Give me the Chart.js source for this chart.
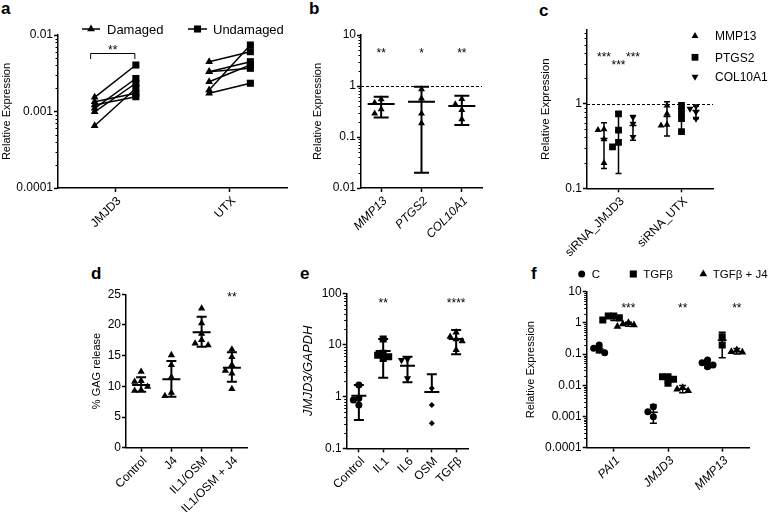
<!DOCTYPE html>
<html><head><meta charset="utf-8">
<script src="https://cdn.jsdelivr.net/npm/chart.js@4/dist/chart.umd.min.js"></script>
<style>
html,body{margin:0;padding:0;background:#fff;}
body{width:778px;height:512px;position:relative;overflow:hidden;font-family:"Liberation Sans",Arial,sans-serif;}
canvas{position:absolute;}
.lbl{position:absolute;font-weight:bold;font-size:17px;line-height:17px;color:#000;font-family:"Liberation Sans",Arial,sans-serif;}
</style></head><body>
<div class="lbl" style="left:1px;top:0px">a</div>
<div class="lbl" style="left:309px;top:0px">b</div>
<div class="lbl" style="left:539px;top:2px">c</div>
<div class="lbl" style="left:91px;top:265px">d</div>
<div class="lbl" style="left:300px;top:265px">e</div>
<div class="lbl" style="left:531px;top:265px">f</div>
<script>
// ---------------- DATA ----------------
// a
const aCategories = ['JMJD3', 'UTX'];
const aSeriesNames = ['Damaged', 'Undamaged'];
const aYTickLabels = ['0.0001', '0.001', '0.01'];
const aDamagedJMJD3 = [0.00153, 0.00134, 0.00122, 0.0011, 0.00099, 0.00065];
const aUndamagedJMJD3 = [0.00405, 0.00173, 0.00156, 0.0027, 0.00234, 0.00201];
const aDamagedUTX = [0.00448, 0.00331, 0.00331, 0.00245, 0.00191, 0.00173];
const aUndamagedUTX = [0.00605, 0.00448, 0.00367, 0.00405, 0.0074, 0.00234];
const aStars = '**';
// b
const bCategories = ['MMP13', 'PTGS2', 'COL10A1'];
const bYTickLabels = ['0.01', '0.1', '1', '10'];
const bMMP13 = [0.55, 0.47, 0.35, 0.29];
const bPTGS2 = [0.86, 0.57, 0.29, 0.186];
const bCOL10A1 = [0.556, 0.437, 0.339, 0.222];
const bMean = [0.444, 0.49, 0.405];
const bErrHigh = [0.617, 0.97, 0.645];
const bErrLow = [0.24, 0.02, 0.172];
const bStars = ['**', '*', '**'];
const bReferenceLevel = 1;
// c
const cCategories = ['siRNA_JMJD3', 'siRNA_UTX'];
const cSeriesNames = ['MMP13', 'PTGS2', 'COL10A1'];
const cYTickLabels = ['0.1', '1'];
const cMMP13_siJMJD3 = [0.50, 0.49, 0.38, 0.20];
const cMMP13_siUTX = [0.955, 0.762, 0.566, 0.555];
const cPTGS2_siJMJD3 = [0.76, 0.49, 0.35, 0.31];
const cPTGS2_siUTX = [0.955, 0.80, 0.67, 0.47];
const cCOL10A1_siJMJD3 = [0.696, 0.582, 0.405];
const cCOL10A1_siUTX = [0.937, 0.873, 0.80, 0.666];
const cMeanMMP13 = [0.388, 0.71];
const cMeanPTGS2 = [0.48, 0.72];
const cMeanCOL10A1 = [0.556, 0.834];
const cErrHighMMP13 = [0.598, 1.06];
const cErrHighPTGS2 = [0.80, 1.03];
const cErrHighCOL10A1 = [0.73, 0.937];
const cErrLowMMP13 = [0.172, 0.416];
const cErrLowPTGS2 = [0.15, 0.47];
const cErrLowCOL10A1 = [0.37, 0.666];
const cStarsSiJMJD3 = ['***', '***', '***'];
const cReferenceLevel = 1;
// d
const dCategories = ['Control', 'J4', 'IL1/OSM', 'IL1/OSM + J4'];
const dYTickLabels = ['0', '5', '10', '15', '20', '25'];
const dControl = [12.4, 10.9, 10.75, 9.94, 9.4, 9.29];
const dJ4 = [15.1, 13.5, 11.5, 8.96, 8.43];
const dIL1OSM = [22.7, 20.3, 18.6, 17.55, 17.0, 16.7];
const dIL1OSMJ4 = [16.0, 14.8, 13.5, 12.55, 12.1, 9.57];
const dMean = [10.2, 11.15, 18.8, 13.04];
const dErrHigh = [11.47, 14.13, 21.35, 15.55];
const dErrLow = [9.13, 8.31, 16.46, 10.76];
const dStars = ['', '', '', '**'];
// e
const eCategories = ['Control', 'IL1', 'IL6', 'OSM', 'TGFβ'];
const eYTickLabels = ['0.1', '1', '10', '100'];
const eControl = [1.68, 0.93, 0.86, 0.69];
const eIL1 = [13.0, 6.9, 6.3, 5.9, 5.5];
const eIL6 = [5.3, 5.1, 2.26];
const eOSM = [1.45, 0.69, 0.305];
const eTGFb = [17.6, 14.5, 13.0, 11.9, 8.0];
const eMean = [1.04, 7.6, 3.97, 1.23, 13.0];
const eErrHigh = [1.68, 13.0, 5.93, 2.7, 19.5];
const eErrLow = [0.353, 2.33, 1.9, null, 6.6];
const eStars = ['', '**', '', '', '****'];
// f
const fCategories = ['PAI1', 'JMJD3', 'MMP13'];
const fSeriesNames = ['C', 'TGFβ', 'TGFβ + J4'];
const fYTickLabels = ['0.0001', '0.001', '0.01', '0.1', '1', '10'];
const fC_PAI1 = [0.196, 0.153, 0.135, 0.111];
const fC_JMJD3 = [0.00206, 0.00143, 0.00099];
const fC_MMP13 = [0.0647, 0.053, 0.045, 0.0394];
const fTGFb_PAI1 = [1.66, 1.66, 1.45, 1.24];
const fTGFb_JMJD3 = [0.0189, 0.0189, 0.0156, 0.0116];
const fTGFb_MMP13 = [0.361, 0.196];
const fTGFbJ4_PAI1 = [1.02, 0.92, 0.86, 0.76];
const fTGFbJ4_JMJD3 = [0.0083, 0.0075, 0.0067];
const fTGFbJ4_MMP13 = [0.135, 0.12, 0.114];
const fMeanC = [0.145, 0.00136, 0.0507];
const fMeanTGFb = [1.5, 0.0156, 0.28];
const fMeanTGFbJ4 = [0.92, 0.0075, 0.12];
const fErrHighC = [0.17, 0.00233, 0.065];
const fErrHighTGFb = [1.7, 0.019, 0.5];
const fErrHighTGFbJ4 = [1.05, 0.0099, 0.15];
const fErrLowC = [0.11, 0.00061, 0.036];
const fErrLowTGFb = [1.2, 0.012, 0.077];
const fErrLowTGFbJ4 = [0.78, 0.0058, 0.1];
const fStars = ['***', '**', '**'];

// ---------------- SETUP ----------------
const SANS = '"Liberation Sans", Arial, Helvetica, sans-serif';
Chart.defaults.font.family = SANS;
Chart.defaults.font.size = 12;
Chart.defaults.color = '#000';
Chart.defaults.animation = false;
Chart.defaults.events = [];
const XH = 80;

function drawMarker(ctx, style, x, y, r) {
  ctx.save(); ctx.fillStyle = '#000'; ctx.beginPath();
  const c = Math.cos(Math.PI / 6) * r;
  if (style === 'triangle') { ctx.moveTo(x, y - r); ctx.lineTo(x + c, y + r / 2); ctx.lineTo(x - c, y + r / 2); ctx.closePath(); }
  else if (style === 'invtriangle') { ctx.moveTo(x, y + r); ctx.lineTo(x + c, y - r / 2); ctx.lineTo(x - c, y - r / 2); ctx.closePath(); }
  else if (style === 'rect') { const s = r * Math.SQRT1_2; ctx.rect(x - s, y - s, 2 * s, 2 * s); }
  else { ctx.arc(x, y, r, 0, Math.PI * 2); }
  ctx.fill(); ctx.restore();
}
function txt(ctx, s, x, y, font, align) {
  ctx.save(); ctx.font = font; ctx.fillStyle = '#000'; ctx.textAlign = align || 'left'; ctx.textBaseline = 'alphabetic';
  ctx.fillText(s, x, y); ctx.restore();
}
function dashed(chart, v) {
  const {ctx, chartArea: ca, scales: {y}} = chart;
  const py = Math.round(y.getPixelForValue(v)) + 0.5;
  ctx.save(); ctx.strokeStyle = '#000'; ctx.lineWidth = 1; ctx.setLineDash([3, 2]);
  ctx.beginPath(); ctx.moveTo(ca.left, py); ctx.lineTo(ca.right, py); ctx.stroke(); ctx.restore();
}
function minorTicks(chart) {
  const {ctx, chartArea: ca, scales: {y}} = chart;
  ctx.save(); ctx.strokeStyle = '#000'; ctx.lineWidth = 1;
  for (let e = Math.floor(Math.log10(y.min)); Math.pow(10, e) <= y.max; e++) {
    for (let k = 2; k <= 9; k++) {
      const v = k * Math.pow(10, e);
      if (v < y.min || v > y.max) continue;
      const py = Math.round(y.getPixelForValue(v)) + 0.5;
      ctx.beginPath(); ctx.moveTo(ca.left, py); ctx.lineTo(ca.left - 2.5, py); ctx.stroke();
    }
  }
  ctx.restore();
}

const swarmPlugin = {
  id: 'swarm',
  afterDatasetsUpdate(chart) {
    const groups = {};
    chart.data.datasets.forEach((ds, di) => {
      if (!ds.swarmKey) return;
      const meta = chart.getDatasetMeta(di);
      groups[ds.swarmKey] = groups[ds.swarmKey] || [];
      meta.data.forEach(el => groups[ds.swarmKey].push({el, size: ds.swarmSize}));
    });
    Object.values(groups).forEach(list => {
      const placed = [];
      list.forEach(({el, size}) => {
        for (const k of [0, -1, 1, -2, 2, -3, 3]) {
          const x = el.x + k * size;
          if (!placed.some(p => Math.abs(p.x - x) < size - 0.5 && Math.abs(p.y - el.y) < size - 0.5)) {
            el.x = x; placed.push({x, y: el.y}); break;
          }
        }
      });
    });
  }
};
const errPlugin = {
  id: 'errbars',
  afterDatasetsDraw(chart, args, opts) {
    if (!opts || !opts.items) return;
    const {ctx, scales: {x, y}} = chart;
    ctx.save(); ctx.strokeStyle = '#000'; ctx.lineWidth = opts.lineWidth; ctx.lineCap = 'butt';
    opts.items.forEach(it => {
      const px = x.getPixelForValue(it.x);
      const pm = y.getPixelForValue(it.mean);
      const ph = y.getPixelForValue(it.hi);
      const hasLo = it.lo !== null && it.lo !== undefined;
      const pl = hasLo ? y.getPixelForValue(it.lo) : pm;
      ctx.beginPath();
      ctx.moveTo(px, ph); ctx.lineTo(px, pl);
      ctx.moveTo(px - opts.cap, ph); ctx.lineTo(px + opts.cap, ph);
      if (hasLo) { ctx.moveTo(px - opts.cap, pl); ctx.lineTo(px + opts.cap, pl); }
      ctx.moveTo(px - opts.meanW, pm); ctx.lineTo(px + opts.meanW, pm);
      ctx.stroke();
    });
    ctx.restore();
  }
};

function pts(values, x, style, r, key, size) {
  const inv = style === 'invtriangle';
  return {
    type: 'scatter', data: values.map(v => ({x, y: v})),
    pointStyle: inv ? 'triangle' : style, pointRotation: inv ? 180 : 0, pointRadius: r,
    pointBackgroundColor: '#000', pointBorderColor: '#000', pointBorderWidth: 0,
    showLine: false, swarmKey: key, swarmSize: size
  };
}
function xScale(cats, italic, size) {
  return {
    type: 'linear', min: -0.5, max: cats.length - 0.5, bounds: 'data',
    afterBuildTicks: s => { s.ticks = cats.map((c, i) => ({value: i})); },
    ticks: {autoSkip: false, minRotation: 45, maxRotation: 45, padding: 2, labelOffset: 4,
      font: {size: size || 12, style: italic ? 'italic' : 'normal'}, callback: v => cats[v]},
    grid: {display: true, drawOnChartArea: false, drawTicks: true, tickLength: 4, tickColor: '#000', tickWidth: 1.5},
    border: {display: true, color: '#000', width: 1.5},
    afterFit: s => { s.height = XH; }
  };
}
function yScale(type, min, max, labels, title, titleFont, yw) {
  return {
    type, min, max, bounds: 'data',
    afterBuildTicks: s => { s.ticks = labels.map(l => ({value: parseFloat(l)})); },
    ticks: {autoSkip: false, padding: 1, font: {size: 12}, callback: (v, i) => labels[i]},
    grid: {display: true, drawOnChartArea: false, drawTicks: true, tickLength: 4, tickColor: '#000', tickWidth: 1.5},
    border: {display: true, color: '#000', width: 1.5},
    title: {display: true, text: title, font: titleFont, padding: {top: 0, bottom: 0}},
    afterFit: s => { s.width = yw; }
  };
}
function panel(p) {
  const [cx, cy, cw] = p.rect;
  const [L, T, R, B] = p.plot;
  const ch = Math.ceil(B + XH + 2 - cy);
  const padL = p.padLeft || 0;
  const cv = document.createElement('canvas');
  cv.width = cw; cv.height = ch; cv.style.left = cx + 'px'; cv.style.top = cy + 'px';
  document.body.appendChild(cv);
  const yw = L - cx - padL;
  const padding = {left: padL, top: T - cy, right: cx + cw - R, bottom: cy + ch - B - XH};
  return new Chart(cv, {
    type: 'scatter',
    data: {datasets: p.datasets},
    options: {
      responsive: false, animation: false, layout: {padding},
      scales: {x: xScale(p.cats, p.italicX, p.xFontSize), y: yScale(p.yType, p.yMin, p.yMax, p.yLabels, p.title, p.titleFont, yw)},
      plugins: {legend: {display: false}, tooltip: {enabled: false}, errbars: p.err || {}}
    },
    plugins: [swarmPlugin, errPlugin, {id: 'extra', afterDraw: p.extra}]
  });
}

// ---------------- PANEL a ----------------
const A_OFF = 0.18;
(function () {
  const ds = [];
  [[aDamagedJMJD3, aUndamagedJMJD3], [aDamagedUTX, aUndamagedUTX]].forEach(([dam, und], ci) => {
    dam.forEach((v, j) => {
      ds.push({type: 'scatter', showLine: true, borderColor: '#000', borderWidth: 1.5,
        data: [{x: ci - A_OFF, y: v}, {x: ci + A_OFF, y: und[j]}],
        pointStyle: ['triangle', 'rect'], pointRadius: [4.5, 5], pointBackgroundColor: '#000', pointBorderWidth: 0});
    });
  });
  panel({
    rect: [0, 0, 311], plot: [58, 35, 287, 188], cats: aCategories, italicX: false,
    yType: 'logarithmic', yMin: 0.0001, yMax: 0.01, yLabels: aYTickLabels,
    title: 'Relative Expression', titleFont: {size: 11},
    datasets: ds,
    extra(chart) {
      const {ctx, chartArea: ca, scales: {x}} = chart;
      minorTicks(chart);
      const x1 = x.getPixelForValue(-A_OFF) - 4, x2 = x.getPixelForValue(A_OFF) - 1, yb = ca.top + 18.5;
      ctx.save(); ctx.strokeStyle = '#000'; ctx.lineWidth = 1;
      ctx.beginPath(); ctx.moveTo(x1, yb + 5.5); ctx.lineTo(x1, yb); ctx.lineTo(x2, yb); ctx.lineTo(x2, yb + 5.5); ctx.stroke(); ctx.restore();
      txt(ctx, aStars, (x1 + x2) / 2, yb, '12px ' + SANS, 'center');
      const ly = 29;
      ctx.save(); ctx.strokeStyle = '#000'; ctx.lineWidth = 1.5;
      ctx.beginPath(); ctx.moveTo(82, ly); ctx.lineTo(100, ly); ctx.moveTo(188, ly); ctx.lineTo(207, ly); ctx.stroke(); ctx.restore();
      drawMarker(ctx, 'triangle', 91, ly, 4.5);
      drawMarker(ctx, 'rect', 197.5, ly, 5);
      txt(ctx, aSeriesNames[0], 107, 33.5, '13px ' + SANS);
      txt(ctx, aSeriesNames[1], 213, 33.5, '13px ' + SANS);
    }
  });
})();

// ---------------- PANEL b ----------------
panel({
  rect: [311, 0, 228], plot: [361, 35, 482, 188], cats: bCategories, italicX: true,
  yType: 'logarithmic', yMin: 0.01, yMax: 10, yLabels: bYTickLabels,
  title: 'Relative Expression', titleFont: {size: 11},
  datasets: [bMMP13, bPTGS2, bCOL10A1].map((vals, i) => pts(vals, i, 'triangle', 4, 'b' + i, 6.5)),
  err: {lineWidth: 2, cap: 7.5, meanW: 13.5,
    items: bMean.map((m, i) => ({x: i, mean: m, hi: bErrHigh[i], lo: bErrLow[i]}))},
  extra(chart) {
    const {ctx, chartArea: ca, scales: {x}} = chart;
    minorTicks(chart);
    dashed(chart, bReferenceLevel);
    bStars.forEach((s, i) => txt(ctx, s, x.getPixelForValue(i), ca.top + 22, '12px ' + SANS, 'center'));
  }
});

// ---------------- PANEL c ----------------
const C_OFF = 0.23;
(function () {
  const styles = ['triangle', 'rect', 'invtriangle'];
  const radii = [4, 4.8, 4];
  const vals = [[cMMP13_siJMJD3, cMMP13_siUTX], [cPTGS2_siJMJD3, cPTGS2_siUTX], [cCOL10A1_siJMJD3, cCOL10A1_siUTX]];
  const means = [cMeanMMP13, cMeanPTGS2, cMeanCOL10A1];
  const his = [cErrHighMMP13, cErrHighPTGS2, cErrHighCOL10A1];
  const los = [cErrLowMMP13, cErrLowPTGS2, cErrLowCOL10A1];
  const ds = [], items = [];
  vals.forEach((pair, s) => pair.forEach((v, ci) => {
    const xv = ci + (s - 1) * C_OFF;
    ds.push(pts(v, xv, styles[s], radii[s], 'c' + s + ci, 6));
    items.push({x: xv, mean: means[s][ci], hi: his[s][ci], lo: los[s][ci]});
  }));
  panel({
    rect: [515, 0, 263], padLeft: 24, plot: [587, 30, 713, 188.3], cats: cCategories, italicX: false,
    yType: 'logarithmic', yMin: 0.1, yMax: 7.5, yLabels: cYTickLabels,
    title: 'Relative Expression', titleFont: {size: 11.5},
    datasets: ds,
    err: {lineWidth: 1.5, cap: 3, meanW: 3.5, items},
    extra(chart) {
      const {ctx, chartArea: ca, scales: {x}} = chart;
      minorTicks(chart);
      dashed(chart, cReferenceLevel);
      cStarsSiJMJD3.forEach((s, i) => txt(ctx, s, x.getPixelForValue((i - 1) * C_OFF), ca.top + (i === 1 ? 39 : 31), '12px ' + SANS, 'center'));
      const rows = [36, 57.3, 76.7];
      cSeriesNames.forEach((n, i) => {
        drawMarker(ctx, styles[i], 180, rows[i], radii[i]);
        txt(ctx, n, 200, rows[i] + 4.2, '12px ' + SANS);
      });
    }
  });
})();

// ---------------- PANEL d ----------------
panel({
  rect: [90, 250, 211], plot: [126, 294.3, 247, 447.7], cats: dCategories, italicX: false,
  yType: 'linear', yMin: 0, yMax: 25, yLabels: dYTickLabels,
  title: '% GAG release', titleFont: {size: 11},
  datasets: [dControl, dJ4, dIL1OSM, dIL1OSMJ4].map((vals, i) => pts(vals, i, 'triangle', 4.2, 'd' + i, 6.5)),
  err: {lineWidth: 2, cap: 5, meanW: 9,
    items: dMean.map((m, i) => ({x: i, mean: m, hi: dErrHigh[i], lo: dErrLow[i]}))},
  extra(chart) {
    const {ctx, chartArea: ca, scales: {x}} = chart;
    dStars.forEach((s, i) => { if (s) txt(ctx, s, x.getPixelForValue(i), ca.top + 7, '12px ' + SANS, 'center'); });
  }
});

// ---------------- PANEL e ----------------
panel({
  rect: [301, 250, 223], plot: [346.7, 293.3, 468.3, 448.3], cats: eCategories, italicX: false,
  yType: 'logarithmic', yMin: 0.1, yMax: 100, yLabels: eYTickLabels,
  title: 'JMJD3/GAPDH', titleFont: {size: 13, style: 'italic'},
  datasets: [
    pts(eControl, 0, 'circle', 3.5, 'e0', 5.5),
    pts(eIL1, 1, 'rect', 5, 'e1', 5.5),
    pts(eIL6, 2, 'invtriangle', 4.2, 'e2', 6),
    pts(eOSM, 3, 'rectRot', 3, 'e3', 5),
    pts(eTGFb, 4, 'triangle', 4.2, 'e4', 6)
  ],
  err: {lineWidth: 2, cap: 5, meanW: 7.5,
    items: eMean.map((m, i) => ({x: i, mean: m, hi: eErrHigh[i], lo: eErrLow[i]}))},
  extra(chart) {
    const {ctx, chartArea: ca, scales: {x}} = chart;
    minorTicks(chart);
    eStars.forEach((s, i) => { if (s) txt(ctx, s, x.getPixelForValue(i), ca.top + 14, '12px ' + SANS, 'center'); });
  }
});

// ---------------- PANEL f ----------------
const F_OFF = 0.27;
(function () {
  const styles = ['circle', 'rect', 'triangle'];
  const radii = [3.5, 5, 4.5];
  const vals = [[fC_PAI1, fC_JMJD3, fC_MMP13], [fTGFb_PAI1, fTGFb_JMJD3, fTGFb_MMP13], [fTGFbJ4_PAI1, fTGFbJ4_JMJD3, fTGFbJ4_MMP13]];
  const means = [fMeanC, fMeanTGFb, fMeanTGFbJ4];
  const his = [fErrHighC, fErrHighTGFb, fErrHighTGFbJ4];
  const los = [fErrLowC, fErrLowTGFb, fErrLowTGFbJ4];
  const ds = [], items = [];
  vals.forEach((row, s) => row.forEach((v, ci) => {
    const xv = ci + (s - 1) * F_OFF;
    ds.push(pts(v, xv, styles[s], radii[s], 'f' + s + ci, 5.5));
    items.push({x: xv, mean: means[s][ci], hi: his[s][ci], lo: los[s][ci]});
  }));
  panel({
    rect: [524, 250, 254], plot: [586.7, 291.7, 749.3, 447.7], cats: fCategories, italicX: true,
    yType: 'logarithmic', yMin: 0.0001, yMax: 10, yLabels: fYTickLabels,
    title: 'Relative Expression', titleFont: {size: 11},
    datasets: ds,
    err: {lineWidth: 1.5, cap: 3.5, meanW: 4.5, items},
    extra(chart) {
      const {ctx, chartArea: ca, scales: {x}} = chart;
      minorTicks(chart);
      fStars.forEach((s, i) => txt(ctx, s, x.getPixelForValue(i + F_OFF), ca.top + 20, '12px ' + SANS, 'center'));
      const ly = 24, mx = [57.7, 109.3, 179.3], tx = [67.7, 119.3, 188.7];
      fSeriesNames.forEach((n, i) => {
        drawMarker(ctx, styles[i], mx[i], ly, radii[i]);
        txt(ctx, n, tx[i], ly + 4.3, '11.5px ' + SANS);
      });
    }
  });
})();
</script>
</body></html>
